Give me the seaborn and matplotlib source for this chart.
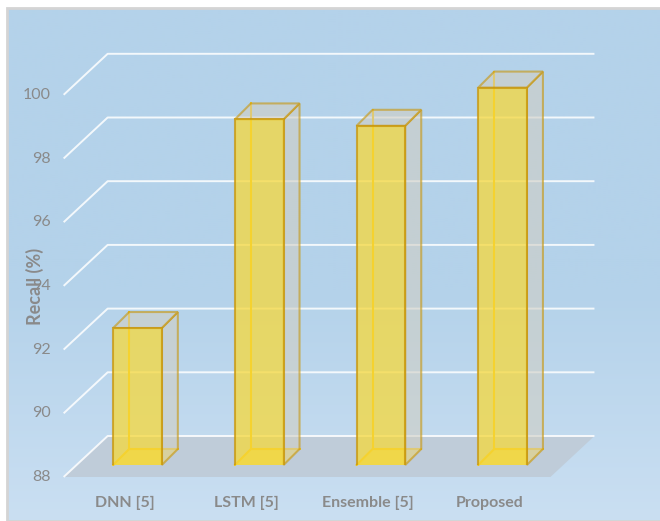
import numpy as np
import pandas as pd
import matplotlib
matplotlib.use("Agg")
import matplotlib.pyplot as plt
import seaborn as sns
from matplotlib.patches import Polygon, Rectangle
from matplotlib.transforms import IdentityTransform

# ---- data ----
models = ["DNN [5]", "LSTM [5]", "Ensemble [5]", "Proposed"]
recall = [92.3, 98.85, 98.65, 99.85]
yticks = [88, 90, 92, 94, 96, 98, 100]
ylabel = "Recall (%)"

sns.set_theme(style="white")
plt.rcParams['font.family'] = ['Lato', 'DejaVu Sans']

W, H = 660, 521
fig = plt.figure(figsize=(W / 100, H / 100), dpi=100)
fig.patch.set_facecolor("white")

# background panel with gradient
bg = fig.add_axes([7 / W, 0, (W - 7) / W, (H - 8) / H])
bg.set_axis_off()
top = np.array([180, 210, 234]) / 255
bot = np.array([202, 223, 242]) / 255
n = 256
t = np.clip((np.linspace(0, 1, n) - 0.55) / 0.45, 0, 1)[:, None]
grad = top[None, :] * (1 - t) + bot[None, :] * t
bg.imshow(grad[:, None, :], aspect="auto", extent=[0, 1, 0, 1], origin="upper")
bg.set_xlim(0, 1); bg.set_ylim(0, 1)
bg.add_patch(Rectangle((0, 0), 1.2, 1, transform=bg.transAxes, fill=False,
                       edgecolor="#D4D4D4", lw=2, clip_on=False))

# main axes: data plane = bars' front faces
ax = fig.add_axes([0, 0, 1, 1])
ax.set_facecolor("none")
px_per_cat = 121.7
px_per_unit = 31.85
x0_img, y88_img = 137.5, 465
XLIM = (-x0_img / px_per_cat, (W - x0_img) / px_per_cat)
YLIM = (88 - (H - y88_img) / px_per_unit, 88 + y88_img / px_per_unit)
ax.set_xlim(*XLIM)
ax.set_ylim(*YLIM)

FRONT = (-13, -12)   # grid front plane offset (display px)
BBACK = (16, 16)     # bar back plane offset
GBACK = (31, 29)     # grid back plane offset

def D(x, y, off=(0, 0)):
    p = ax.transData.transform((x, y))
    return (p[0] + off[0], p[1] + off[1])

ident = IdentityTransform()

# floor
floor = [D(-0.5, 88, FRONT), D(3.5, 88, FRONT), D(3.5, 88, GBACK), D(-0.5, 88, GBACK)]
ax.add_patch(Polygon(floor, closed=True, transform=ident, facecolor="#BFCBD7",
                     edgecolor="none", alpha=0.9, zorder=1))

# gridlines
for v in yticks:
    a = D(-0.5, v, FRONT); b = D(-0.5, v, GBACK); c = D(3.5, v, GBACK)
    ax.plot([a[0], b[0], c[0]], [a[1], b[1], c[1]], transform=ident,
            color="white", lw=1.4, alpha=0.85, zorder=2, solid_capstyle="butt")
    ax.text(a[0] - 13, a[1], f"{v}", transform=ident, ha="right", va="center",
            fontsize=11.5, color="#8A8A8A")

FACE = "#F5D83E"
EDGE = "#C8960A"
INNER = "#F5C200"

# front faces through seaborn
df = pd.DataFrame({"model": models, "recall": recall})
sns.barplot(data=df, x="model", y="recall", ax=ax, width=0.4,
            color=FACE, alpha=0.76, edgecolor=EDGE, linewidth=1.5,
            zorder=6, saturation=1)
ax.set_xlim(*XLIM)
ax.set_ylim(*YLIM)
clip = Rectangle((-5, 88), 20, 50, transform=ax.transData)
bars = [p for p in ax.patches if isinstance(p, Rectangle) and p.get_width() < 1]
for p in bars:
    p.set_clip_path(clip)

for p in bars:
    xl, w, h = p.get_x(), p.get_width(), p.get_height()
    xr = xl + w
    fbl, fbr, ftl, ftr = D(xl, 88), D(xr, 88), D(xl, h), D(xr, h)
    bbl, bbr, btl, btr = D(xl, 88, BBACK), D(xr, 88, BBACK), D(xl, h, BBACK), D(xr, h, BBACK)
    # bottom face
    ax.add_patch(Polygon([fbl, fbr, bbr, bbl], transform=ident, facecolor=FACE,
                         alpha=0.7, edgecolor="none", zorder=3))
    # hidden edges
    for s, e in [(bbl, btl), (bbl, bbr), (fbl, bbl)]:
        ax.plot([s[0], e[0]], [s[1], e[1]], transform=ident, color=INNER, lw=1.5, zorder=4)
    # right face
    ax.add_patch(Polygon([fbr, bbr, btr, ftr], transform=ident, facecolor="#CFCEC4",
                         alpha=0.6, edgecolor=EDGE, lw=1.5, zorder=5))
    # top face
    ax.add_patch(Polygon([ftl, ftr, btr, btl], transform=ident, facecolor="#CFCEC4",
                         alpha=0.6, edgecolor=EDGE, lw=1.5, zorder=5))

# x labels on the front plane
for i, m in enumerate(models):
    pnt = D(i, 88, FRONT)
    ax.text(pnt[0], pnt[1] - 26, m, transform=ident, ha="center", va="center",
            fontsize=11.5, fontweight="bold", color="#8A8A8A")

ax.set_axis_off()

fig.text(35 / W, 1 - 286 / H, ylabel, rotation=90, ha="center", va="center",
         fontsize=13, fontweight="bold", color="#8A8A8A")

fig.savefig("out.png", dpi=100)
